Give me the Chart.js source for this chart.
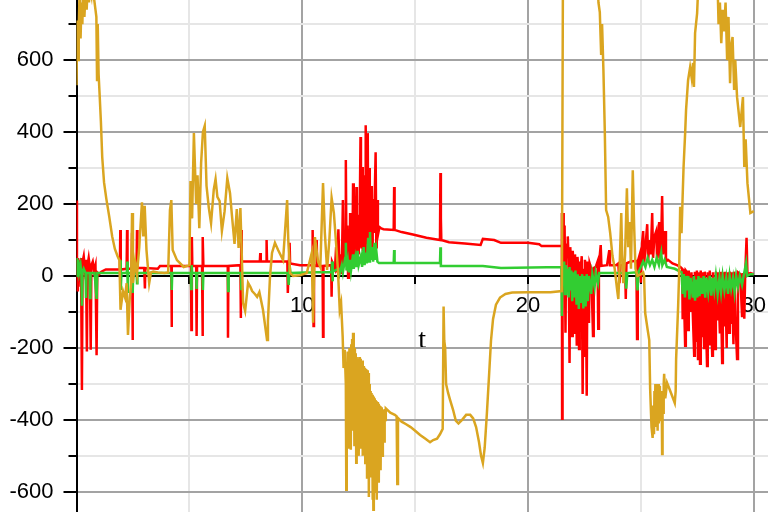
<!DOCTYPE html>
<html>
<head>
<meta charset="utf-8">
<script src="https://cdn.jsdelivr.net/npm/chart.js"></script>
<style>
html,body{margin:0;padding:0;background:#fff;}
#wrap{width:768px;height:512px;}
</style>
</head>
<body>
<div id="wrap"><canvas id="c" width="768" height="512"></canvas></div>
<script>
// ---- axis ranges / ticks ----
const xRange = [0, 30.63];
const yRange = [-656, 767];
const xTickValues = [5, 10, 15, 20, 25, 30];
const xLabelValues = [10, 20, 30];
const yTickValues = [-600, -500, -400, -300, -200, -100, 0, 100, 200, 300, 400, 500, 600, 700];
const yLabelValues = [-600, -400, -200, 0, 200, 400, 600];
const xAxisTitle = 't';

// ---- series: [t, value] ----
const goldSeries = [
[0.00,530],[0.03,710],[0.07,600],[0.10,690],[0.14,800],[0.18,660],[0.22,760],[0.26,700],[0.30,820],[0.35,720],
[0.40,790],[0.45,740],[0.50,810],[0.55,760],[0.60,800],[0.66,780],[0.72,840],[0.78,770],[0.84,740],[0.88,720],
[0.91,545],[0.94,700],[0.98,560],[1.02,510],[1.08,430],[1.14,330],[1.22,260],[1.32,215],[1.45,165],[1.58,110],
[1.70,75],[1.82,55],[1.90,44],[1.95,-94],[2.06,-42],[2.15,-60],[2.22,-20],[2.28,-164],[2.36,-60],[2.42,-20],
[2.46,175],[2.50,-19],[2.60,40],[2.68,5],[2.78,80],[2.90,205],[2.96,110],[3.02,195],[3.10,72],[3.22,-20],
[3.30,10],[3.40,12],[3.60,10],[3.90,8],[4.06,10],[4.14,183],[4.20,211],[4.26,72],[4.45,44],[4.75,25],
[5.00,30],[5.05,264],[5.12,160],[5.20,397],[5.30,200],[5.36,280],[5.44,133],[5.52,314],[5.60,400],[5.68,417],
[5.76,250],[5.86,190],[5.96,147],[6.08,240],[6.16,269],[6.24,220],[6.34,208],[6.44,125],[6.56,180],[6.68,272],
[6.80,230],[6.88,172],[7.00,89],[7.10,186],[7.18,78],[7.26,189],[7.32,60],[7.38,-75],[7.47,-97],[7.60,-19],
[7.70,-30],[7.78,-42],[7.90,-50],[8.00,-58],[8.10,-45],[8.26,-94],[8.44,-178],[8.48,-125],[8.57,-3],[8.66,64],
[8.79,92],[8.93,72],[9.15,44],[9.33,211],[9.38,100],[9.46,8],[9.59,0],[9.90,2],[10.20,8],[10.42,64],
[10.48,-130],[10.56,108],[10.70,40],[10.80,25],[10.92,258],[11.00,120],[11.10,17],[11.20,100],[11.30,217],[11.40,175],
[11.50,90],[11.58,17],[11.66,-94],[11.72,-75],[11.79,-169],[11.83,-256],[11.88,-205],
[11.93,-300],[11.95,-594],[11.97,-240],[11.99,-420],[12.01,-210],[12.03,-380],[12.05,-230],[12.07,-480],[12.09,-200],[12.11,-400],
[12.13,-220],[12.15,-483],[12.17,-190],[12.19,-350],[12.21,-175],[12.23,-430],[12.25,-158],[12.27,-390],[12.29,-180],[12.31,-470],
[12.33,-200],[12.35,-420],[12.37,-215],[12.39,-519],[12.41,-225],[12.43,-400],[12.45,-230],[12.47,-450],[12.49,-235],[12.51,-500],
[12.53,-225],[12.55,-430],[12.57,-230],[12.59,-480],[12.61,-240],[12.63,-420],[12.65,-235],[12.67,-500],[12.69,-245],[12.71,-440],
[12.73,-250],[12.75,-470],[12.77,-255],[12.79,-520],[12.81,-258],[12.83,-450],[12.85,-260],[12.87,-560],[12.89,-262],[12.91,-480],
[12.93,-270],[12.95,-614],[12.97,-300],[12.99,-520],[13.01,-320],[13.03,-560],[13.05,-325],[13.07,-480],[13.09,-330],[13.11,-622],
[13.13,-336],[13.15,-650],[13.17,-335],[13.19,-500],[13.21,-340],[13.23,-600],[13.25,-345],[13.27,-470],[13.29,-348],[13.31,-622],
[13.33,-350],[13.35,-520],[13.37,-355],[13.39,-575],[13.41,-360],[13.43,-480],[13.45,-362],[13.47,-540],[13.49,-365],[13.51,-450],
[13.53,-370],[13.55,-500],[13.57,-372],[13.59,-430],[13.61,-375],[13.63,-460],[13.65,-370],[13.67,-400],[13.70,-368],
[13.90,-380],[14.10,-386],[14.18,-390],[14.21,-578],[14.24,-395],[14.40,-405],[14.60,-412],[14.80,-420],
[15.00,-430],[15.22,-442],[15.44,-452],[15.66,-462],[15.80,-456],[15.97,-452],[16.10,-440],[16.22,-425],[16.26,-85],[16.29,-180],
[16.33,-200],[16.37,-300],[16.46,-325],[16.55,-345],[16.68,-372],[16.80,-402],[16.92,-410],[17.08,-400],[17.26,-386],[17.44,-386],
[17.57,-396],[17.70,-420],[17.83,-462],[17.92,-500],[18.00,-520],[18.08,-478],[18.18,-380],[18.28,-270],[18.36,-180],[18.45,-120],
[18.58,-80],[18.76,-60],[19.00,-50],[19.30,-46],[20.00,-45],[21.00,-45],[21.50,-42],[21.55,900],[22.50,950],[23.05,880],
[23.12,760],[23.18,733],[23.24,614],[23.28,700],[23.34,572],[23.40,405],[23.46,183],[23.55,164],[23.64,119],[23.74,56],
[23.84,20],[23.95,-40],[24.00,-64],[24.06,30],[24.13,175],[24.18,30],[24.22,-20],[24.30,60],[24.38,244],[24.44,80],
[24.50,150],[24.56,20],[24.64,294],[24.70,140],[24.76,20],[24.85,0],[25.00,5],[25.10,10],[25.14,0],[25.19,-103],
[25.30,-150],[25.37,-178],[25.41,-314],[25.47,-420],[25.52,-450],[25.55,-360],[25.58,-440],[25.60,-320],[25.62,-400],[25.64,-300],
[25.66,-420],[25.68,-310],[25.70,-390],[25.72,-300],[25.74,-430],[25.76,-300],[25.78,-410],[25.80,-310],[25.82,-380],[25.84,-305],
[25.86,-400],[25.88,-320],[25.90,-390],[25.92,-330],[25.94,-495],[25.96,-320],[25.98,-380],[26.01,-300],[26.03,-272],[26.08,-340],
[26.16,-297],[26.27,-315],[26.38,-333],[26.50,-353],[26.54,-320],[26.56,-231],[26.65,-83],[26.69,0],
[26.74,192],[26.80,119],[26.84,203],[26.89,303],[26.96,397],[27.00,461],[27.09,544],[27.18,580],[27.25,550],[27.31,592],
[27.35,525],[27.40,675],[27.49,730],[27.53,790],[28.00,900],[28.40,800],[28.44,700],[28.50,760],[28.56,647],[28.62,740],
[28.68,680],[28.75,760],[28.82,600],[28.88,720],[28.95,536],[29.00,640],[29.06,664],[29.13,517],[29.18,600],[29.26,497],
[29.40,414],[29.52,497],[29.58,303],[29.64,380],[29.72,258],[29.85,175],[30.00,180]
];

const redSeries = [
[0.00,210],[0.02,20],[0.04,-40],[0.06,50],[0.09,-30],[0.12,45],[0.16,-10],[0.20,50],[0.24,-317],[0.27,40],
[0.32,55],[0.37,20],[0.42,45],[0.46,-210],[0.49,30],[0.54,50],[0.59,25],[0.63,-205],[0.66,30],[0.72,40],
[0.78,15],[0.84,30],[0.89,-220],[0.92,10],[1.00,5],[1.10,12],[1.30,18],[1.92,18],[1.94,128],[1.96,18],
[2.22,20],[2.24,128],[2.26,20],[2.44,20],[2.46,120],[2.48,-178],[2.50,20],[2.66,22],[2.68,128],[2.70,22],
[3.00,22],[3.03,-35],[3.05,22],[3.60,20],[3.70,28],[4.20,28],[4.21,-142],[4.23,28],[5.07,28],[5.09,-150],
[5.11,108],[5.13,28],[5.30,28],[5.32,-167],[5.34,28],[5.56,28],[5.58,-167],[5.60,108],[5.62,28],[6.70,28],
[6.71,-172],[6.73,28],[7.26,30],[7.28,-117],[7.30,128],[7.32,40],[8.12,40],[8.14,64],[8.16,40],[8.40,40],
[8.42,100],[8.44,40],[9.34,40],[9.36,-47],[9.44,92],[9.46,35],[9.90,30],[10.44,30],[10.46,128],[10.50,-139],
[10.52,30],[10.62,28],[10.64,100],[10.66,28],[10.90,28],[10.92,-169],[10.94,28],[11.28,30],[11.30,-58],[11.32,40],
[11.45,20],[11.50,80],[11.55,10],[11.60,130],[11.65,20],[11.70,60],[11.75,5],[11.80,211],[11.84,30],[11.90,120],
[11.93,322],[11.96,40],[12.00,140],[12.03,-5],[12.07,100],[12.10,30],[12.12,175],[12.15,20],[12.18,90],[12.20,120],
[12.22,40],[12.25,258],[12.28,30],[12.30,110],[12.32,150],[12.34,30],[12.36,60],[12.38,140],[12.40,247],[12.42,60],
[12.44,40],[12.47,170],[12.50,60],[12.52,140],[12.55,200],[12.58,386],[12.60,90],[12.62,80],[12.64,180],[12.66,303],
[12.68,70],[12.70,100],[12.72,200],[12.74,280],[12.76,110],[12.78,50],[12.80,230],[12.82,419],[12.84,120],[12.86,90],
[12.88,250],[12.90,397],[12.92,130],[12.94,70],[12.96,200],[12.98,300],[13.00,140],[13.02,110],[13.04,180],[13.06,250],
[13.08,120],[13.10,60],[13.12,170],[13.15,214],[13.18,130],[13.20,120],[13.22,220],[13.25,344],[13.28,80],[13.30,160],
[13.32,211],[13.35,130],[13.37,120],[13.42,136],[13.50,132],[13.60,130],
[14.05,128],[14.07,247],[14.09,128],[14.40,122],[14.90,115],[15.50,106],[16.10,100],[16.12,286],[16.14,160],[16.16,100],
[16.50,94],[17.20,90],[17.90,86],[18.00,103],[18.50,100],[18.80,92],[20.00,92],[20.50,88],[20.60,83],[21.48,83],
[21.50,175],[21.51,-397],[21.53,100],[21.56,175],[21.58,60],[21.62,140],[21.66,-158],[21.69,90],[21.73,60],[21.76,110],
[21.80,45],[21.84,-242],[21.87,80],[21.91,40],[21.95,-167],[21.98,70],[22.02,30],[22.05,-158],[22.08,60],[22.12,20],
[22.16,-194],[22.19,53],[22.23,20],[22.26,-203],[22.29,40],[22.33,15],[22.38,55],[22.42,-328],[22.45,20],[22.49,-222],
[22.52,45],[22.56,18],[22.60,-333],[22.63,40],[22.66,18],[22.70,-131],[22.73,35],[22.80,20],[22.88,-167],[22.91,22],
[23.00,25],[23.08,40],[23.11,-147],[23.14,30],[23.22,86],[23.25,28],[23.50,30],[23.60,72],[23.63,30],[23.90,30],
[24.00,35],[24.05,-20],[24.10,30],[24.30,32],[24.33,-64],[24.36,35],[24.55,40],[24.80,42],[24.83,-175],[24.86,40],
[24.95,60],[25.00,-19],[25.05,90],[25.10,125],[25.14,30],[25.20,80],[25.28,144],[25.32,40],[25.38,100],[25.44,60],
[25.50,175],[25.54,50],[25.60,110],[25.68,125],[25.72,40],[25.76,90],[25.81,150],[25.85,50],[25.90,100],[25.94,222],
[25.98,60],[26.03,90],[26.07,125],[26.11,40],[26.20,45],[26.40,35],[26.60,30],[26.75,25],[26.83,20],[26.85,-120],
[26.88,20],[26.96,-194],[26.99,15],[27.05,10],[27.09,-150],[27.12,15],[27.20,-100],[27.24,10],[27.36,-222],[27.39,12],
[27.45,-180],[27.48,15],[27.53,-231],[27.56,10],[27.62,-244],[27.65,15],[27.70,-170],[27.73,10],[27.80,-200],[27.83,12],
[27.93,-250],[27.96,10],[28.02,-190],[28.05,15],[28.16,-222],[28.19,10],[28.29,-203],[28.32,12],[28.38,-120],[28.41,10],
[28.50,-160],[28.53,12],[28.60,-242],[28.63,10],[28.70,-140],[28.73,12],[28.80,-200],[28.83,10],[28.91,-158],[28.94,12],
[29.00,-130],[29.03,10],[29.10,-190],[29.13,12],[29.20,-140],[29.26,-231],[29.30,10],[29.40,5],[29.48,-111],[29.51,8],
[29.58,-119],[29.62,5],[29.68,106],[29.72,5],[29.85,8],[30.00,5]
];

const greenSeries = [
[0.00,0],[0.02,50],[0.05,10],[0.08,45],[0.12,10],[0.18,30],[0.22,5],[0.24,-83],[0.26,8],[0.32,20],
[0.40,8],[0.42,-61],[0.44,8],[0.58,8],[0.60,-61],[0.62,8],[0.80,8],[0.89,-64],[0.92,8],[1.20,8],
[1.93,8],[1.95,44],[1.97,-39],[1.99,8],[2.23,8],[2.25,40],[2.27,-47],[2.29,8],[2.45,8],[2.47,44],
[2.49,-47],[2.51,8],[2.66,8],[2.68,-20],[2.70,8],[4.20,8],[4.22,-39],[4.24,8],[5.06,8],[5.08,-36],
[5.10,30],[5.12,8],[5.30,8],[5.32,-36],[5.34,8],[5.58,8],[5.60,-39],[5.62,8],[6.70,8],[6.72,-42],
[6.74,8],[7.28,8],[7.30,-36],[7.32,8],[9.36,8],[9.40,-25],[9.44,30],[9.48,8],[10.46,10],[10.48,30],
[10.50,-10],[10.52,10],[11.30,10],[11.32,40],[11.34,-15],[11.36,12],[11.60,20],[11.65,5],[11.75,30],[11.80,10],
[11.90,50],[11.93,92],[11.96,15],[12.02,40],[12.06,10],[12.12,45],[12.16,15],[12.25,60],[12.28,20],[12.35,50],
[12.40,25],[12.45,70],[12.50,30],[12.60,55],[12.65,25],[12.72,80],[12.76,30],[12.82,65],[12.86,35],[12.92,106],
[12.96,40],[13.00,122],[13.04,45],[13.10,80],[13.14,40],[13.20,92],[13.24,45],[13.28,70],[13.33,40],[13.40,36],
[14.05,36],[14.07,72],[14.09,36],[16.10,36],[16.12,80],[16.14,28],[18.00,28],[18.80,22],[21.48,25],[21.50,-111],
[21.53,30],[21.56,-20],[21.60,40],[21.64,-50],[21.68,30],[21.72,-30],[21.76,20],[21.80,-60],[21.84,25],[21.88,-40],
[21.92,15],[21.96,-70],[22.00,10],[22.05,-60],[22.10,15],[22.15,-80],[22.20,5],[22.25,-92],[22.30,0],[22.35,-75],
[22.40,5],[22.45,-90],[22.50,0],[22.55,-85],[22.60,5],[22.65,-70],[22.70,0],[22.80,-50],[22.85,5],[22.95,-30],
[23.00,8],[23.10,-20],[23.15,8],[24.30,8],[24.35,-35],[24.40,8],[24.80,10],[24.85,-40],[24.90,12],[25.00,25],
[25.10,40],[25.20,25],[25.30,50],[25.40,30],[25.50,45],[25.60,25],[25.70,50],[25.80,30],[25.90,64],[25.95,30],
[26.05,45],[26.15,25],[26.50,20],[26.80,10],[26.85,-50],[26.90,5],[26.95,-60],[27.00,0],[27.05,-40],[27.10,0],
[27.15,-65],[27.20,-5],[27.30,-60],[27.35,0],[27.40,-69],[27.45,-10],[27.50,-60],[27.55,0],[27.60,-56],[27.65,-5],
[27.72,-50],[27.78,0],[27.85,-60],[27.90,-5],[27.98,-45],[28.05,0],[28.12,-55],[28.18,-5],[28.25,-40],[28.32,0],
[28.40,-50],[28.48,-5],[28.55,-45],[28.62,0],[28.70,-40],[28.78,-5],[28.86,-50],[28.93,0],[29.00,-35],[29.08,-5],
[29.15,-45],[29.22,0],[29.30,-30],[29.38,0],[29.48,-25],[29.55,0],[29.66,36],[29.70,0],[29.85,5],[30.00,5]
];

// ---- styling ----
const MAJOR = '#a3a3a3';
const MINOR = '#e6e6e6';
Chart.defaults.font.family = "'Liberation Sans', Arial, sans-serif";

const toXY = s => s.map(p => ({x: p[0], y: p[1]}));
const lineDs = (label, series, color) => ({
  label, data: toXY(series), borderColor: color, backgroundColor: color,
  borderWidth: 2.5, pointRadius: 0, tension: 0, fill: false
});

new Chart(document.getElementById('c'), {
  type: 'line',
  data: {
    datasets: [
      lineDs('gold', goldSeries, '#DAA520'),
      lineDs('green', greenSeries, '#32CD32'),
      lineDs('red', redSeries, '#FF0000')
    ]
  },
  options: {
    responsive: false,
    animation: false,
    devicePixelRatio: 1,
    layout: {padding: 0},
    plugins: {legend: {display: false}, tooltip: {enabled: false}},
    scales: {
      x: {
        type: 'linear', min: xRange[0], max: xRange[1],
        position: {y: 0},
        afterBuildTicks: s => { s.ticks = xTickValues.map(v => ({value: v})); },
        afterFit: s => { s.paddingLeft = 0; s.paddingRight = 0; },
        grid: {
          color: c => (c.tick && c.tick.value % 10 === 0) ? MAJOR : MINOR,
          lineWidth: 2, tickLength: 7, tickColor: '#000', tickWidth: 2
        },
        border: {display: true, color: '#000', width: 2},
        ticks: {
          color: '#000', font: {size: 22}, padding: 10, maxRotation: 0, autoSkip: false,
          callback: v => xLabelValues.includes(v) ? String(v) : ''
        },
        title: {
          display: true, text: xAxisTitle, color: '#000',
          font: {family: "'Liberation Serif', 'Times New Roman', serif", size: 28, lineHeight: 0.8},
          padding: {top: 0, bottom: 0}
        }
      },
      y: {
        type: 'linear', min: yRange[0], max: yRange[1], position: 'left',
        afterBuildTicks: s => { s.ticks = yTickValues.map(v => ({value: v})); },
        afterFit: s => { s.width = 76.5; s.paddingTop = 0; s.paddingBottom = 0; },
        grid: {
          color: c => {
            const v = c.tick ? c.tick.value : 1;
            if (v === 0) return '#000';
            return (v % 200 === 0) ? MAJOR : MINOR;
          },
          lineWidth: 2, tickLength: 13, tickColor: '#000', tickWidth: 2,
          tickBorderDash: c => (c.tick && c.tick.value % 200 !== 0) ? [0, 5, 8, 60] : []
        },
        border: {display: true, color: '#000', width: 2},
        ticks: {
          color: '#000', font: {size: 22}, padding: 10, autoSkip: false,
          callback: v => yLabelValues.includes(v) ? String(v) : ''
        }
      }
    }
  }
});
</script>
</body>
</html>
